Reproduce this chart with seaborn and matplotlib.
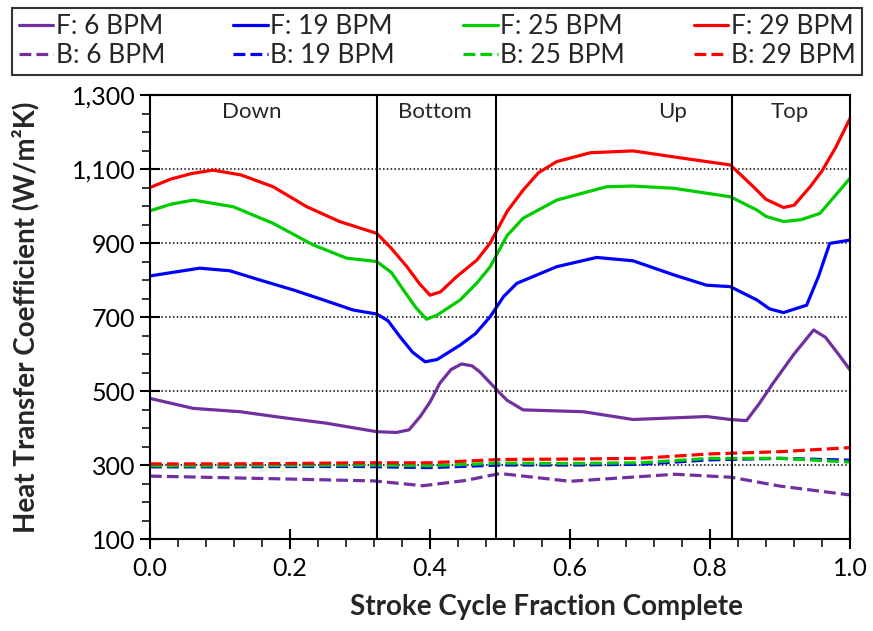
import pandas as pd
import matplotlib.pyplot as plt
import matplotlib.ticker as mticker
import seaborn as sns

# Forward (F) curves
x_f6 = [0.0, 0.062, 0.129, 0.186, 0.252, 0.324, 0.352, 0.37, 0.386, 0.40, 0.414, 0.43, 0.445,
        0.46, 0.471, 0.498, 0.51, 0.533, 0.619, 0.69, 0.795, 0.829, 0.852, 0.87, 0.89, 0.92,
        0.948, 0.965, 0.986, 1.0]
y_f6 = [480, 453, 444, 429, 413, 390, 388, 395, 431, 470, 521, 558, 573,
        568, 552, 498, 475, 449, 444, 423, 431, 423, 420, 465, 521, 600,
        665, 645, 593, 557]

x_f19 = [0.0, 0.071, 0.114, 0.157, 0.205, 0.248, 0.29, 0.324, 0.34, 0.357, 0.375, 0.393, 0.41,
         0.443, 0.465, 0.486, 0.505, 0.524, 0.581, 0.638, 0.69, 0.748, 0.795, 0.829, 0.867,
         0.885, 0.905, 0.938, 0.955, 0.971, 1.0]
y_f19 = [811, 832, 825, 800, 773, 746, 719, 708, 690, 647, 605, 579, 585,
         624, 655, 701, 755, 791, 836, 861, 852, 814, 786, 782, 746,
         722, 712, 732, 810, 899, 908]

x_f25 = [0.0, 0.03, 0.062, 0.119, 0.176, 0.233, 0.281, 0.324, 0.345, 0.362, 0.38, 0.395, 0.41,
         0.443, 0.467, 0.486, 0.51, 0.533, 0.581, 0.652, 0.69, 0.748, 0.829, 0.867, 0.88,
         0.905, 0.93, 0.957, 1.0]
y_f25 = [987, 1005, 1016, 998, 953, 895, 859, 850, 820, 773, 725, 694, 705,
         746, 792, 836, 920, 967, 1016, 1052, 1054, 1048, 1025, 989, 972,
         958, 963, 980, 1075]

x_f29 = [0.0, 0.03, 0.06, 0.09, 0.13, 0.176, 0.224, 0.271, 0.324, 0.345, 0.367, 0.385, 0.40,
         0.415, 0.438, 0.467, 0.486, 0.51, 0.533, 0.555, 0.581, 0.629, 0.69, 0.762, 0.829,
         0.862, 0.88, 0.905, 0.92, 0.943, 0.96, 0.98, 1.0]
y_f29 = [1050, 1073, 1088, 1097, 1084, 1052, 998, 958, 926, 885, 836, 790, 759,
         768, 809, 854, 900, 985, 1043, 1090, 1120, 1144, 1149, 1129, 1111,
         1052, 1018, 996, 1002, 1052, 1095, 1160, 1237]

# Backward (B) curves
x_b6 = [0.0, 0.1, 0.2, 0.32, 0.39, 0.45, 0.5, 0.6, 0.75, 0.83, 0.9, 1.0]
y_b6 = [270, 266, 262, 257, 244, 258, 277, 256, 275, 267, 243, 219]

x_b = [0.0, 0.1, 0.2, 0.3, 0.4, 0.5, 0.6, 0.7, 0.8, 0.9, 1.0]
y_b19 = [295, 295, 296, 296, 293, 300, 300, 302, 314, 318, 313]
y_b25 = [298, 298, 299, 300, 298, 305, 304, 306, 318, 318, 308]
y_b29 = [303, 303, 304, 306, 306, 315, 316, 318, 330, 336, 347]

phase_edges = [0.324, 0.494, 0.831]
phase_names = ["Down", "Bottom", "Up", "Top"]
phase_x = [0.146, 0.407, 0.747, 0.914]

y_ticks = [100, 300, 500, 700, 900, 1100, 1300]
grid_y = [300, 500, 700, 900, 1100]

colors = {"6": "#7030A0", "19": "#0000FF", "25": "#00CC00", "29": "#FF0000"}

series = [
    ("F: 6 BPM", x_f6, y_f6, "6", "-"),
    ("B: 6 BPM", x_b6, y_b6, "6", "--"),
    ("F: 19 BPM", x_f19, y_f19, "19", "-"),
    ("B: 19 BPM", x_b, y_b19, "19", "--"),
    ("F: 25 BPM", x_f25, y_f25, "25", "-"),
    ("B: 25 BPM", x_b, y_b25, "25", "--"),
    ("F: 29 BPM", x_f29, y_f29, "29", "-"),
    ("B: 29 BPM", x_b, y_b29, "29", "--"),
]

sns.set_style("white")
plt.rcParams['font.family'] = ['Lato', 'DejaVu Sans']

fig = plt.figure(figsize=(8.73, 6.31), dpi=100)
ax = fig.add_axes([0.1718, 0.1458, 0.8019, 0.7036])

for name, xs, ys, key, ls in series:
    df = pd.DataFrame({"x": xs, "y": ys})
    sns.lineplot(data=df, x="x", y="y", ax=ax, color=colors[key], linestyle=ls,
                 linewidth=2.3, label=name, legend=False)

# dotted grid lines
for g in grid_y:
    ax.axhline(g, color="black", linestyle=(0, (1, 1.5)), linewidth=1.1, zorder=0)

for e in phase_edges:
    ax.axvline(e, color="black", linewidth=1.5, zorder=3)

for nm, px in zip(phase_names, phase_x):
    ax.text(px, 1253, nm, ha="center", va="center", fontsize=16)

ax.set_xlim(0, 1)
ax.set_ylim(100, 1300)
ax.xaxis.set_major_locator(mticker.MultipleLocator(0.2))
ax.xaxis.set_minor_locator(mticker.MultipleLocator(0.04))
ax.yaxis.set_major_locator(mticker.FixedLocator(y_ticks))
ax.yaxis.set_minor_locator(mticker.MultipleLocator(50))
ax.xaxis.set_major_formatter(mticker.FormatStrFormatter("%.1f"))
ax.yaxis.set_major_formatter(mticker.StrMethodFormatter("{x:,.0f}"))
ax.tick_params(axis="both", which="major", direction="inout", length=14, width=1.5,
               labelsize=18, colors="black", bottom=True, left=True)
ax.tick_params(axis="both", which="minor", direction="out", length=6, width=1.3,
               bottom=True, left=True)
ax.tick_params(axis="x", which="major", pad=6)

for spine in ax.spines.values():
    spine.set_visible(True)
    spine.set_color("black")
    spine.set_linewidth(1.5)

ax.set_xlabel("Stroke Cycle Fraction Complete", fontsize=20, fontweight="bold")
ax.set_ylabel("Heat Transfer Coefficient (W/m²K)", fontsize=20, fontweight="bold")
ax.xaxis.set_label_coords(0.567, -0.125)
ax.yaxis.set_label_coords(-0.158, 0.5)

handles, labels = ax.get_legend_handles_labels()
leg = fig.legend(handles, labels, loc="lower left", ncol=4, mode="expand",
                 bbox_to_anchor=(0.0137, 0.8811, 0.9737, 0.1062),
                 fontsize=19, frameon=True, fancybox=False, edgecolor="black",
                 handlelength=1.3, handletextpad=0.1, borderaxespad=0,
                 labelspacing=0.15, borderpad=0.25)
leg.get_frame().set_linewidth(1.5)

plt.savefig("out.png", dpi=100, facecolor="white")
